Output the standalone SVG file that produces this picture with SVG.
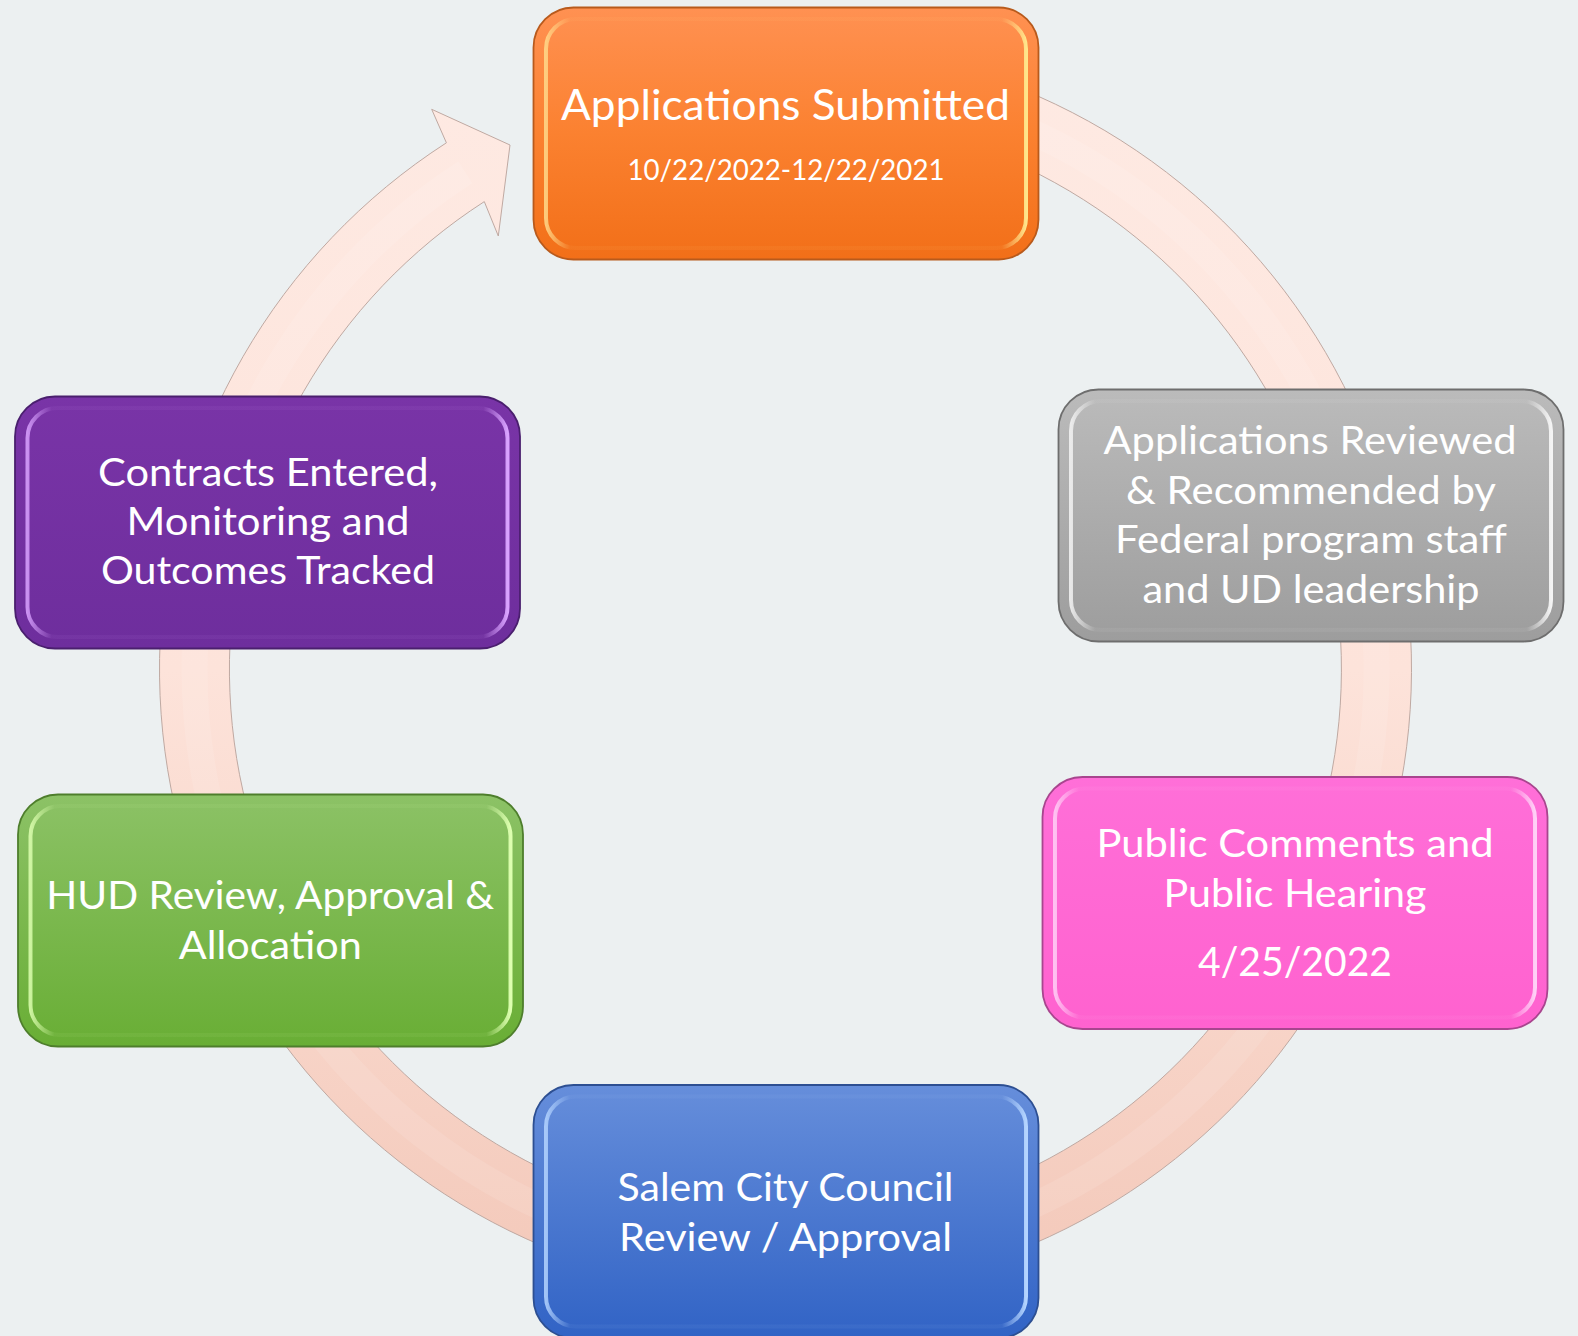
<svg xmlns="http://www.w3.org/2000/svg" width="1578" height="1336" viewBox="0 0 1578 1336">
<defs>
<style>
.t{fill:#fff;font-family:Lato,"Open Sans","DejaVu Sans",sans-serif;text-anchor:middle}
.b{font-size:39px}
.box{stroke-width:1.8}
.gl{fill:none;stroke-width:4}
</style>
<linearGradient id="ringG" gradientUnits="userSpaceOnUse" x1="0" y1="40" x2="0" y2="1300">
<stop offset="0" stop-color="#FEEAE3"/><stop offset="0.5" stop-color="#FDE3DA"/><stop offset="1" stop-color="#F3C8B9"/>
</linearGradient>
<linearGradient id="gO" x1="0" y1="0" x2="0" y2="1"><stop offset="0" stop-color="#FF9152"/><stop offset="0.5" stop-color="#FB8130"/><stop offset="1" stop-color="#F26F18"/></linearGradient>
<linearGradient id="gG" x1="0" y1="0" x2="0" y2="1"><stop offset="0" stop-color="#BBBBBB"/><stop offset="1" stop-color="#9D9D9D"/></linearGradient>
<linearGradient id="gP" x1="0" y1="0" x2="0" y2="1"><stop offset="0" stop-color="#FF6FD8"/><stop offset="1" stop-color="#FF62CF"/></linearGradient>
<linearGradient id="gB" x1="0" y1="0" x2="0" y2="1"><stop offset="0" stop-color="#668EDB"/><stop offset="1" stop-color="#3163C5"/></linearGradient>
<linearGradient id="gN" x1="0" y1="0" x2="0" y2="1"><stop offset="0" stop-color="#8CC266"/><stop offset="1" stop-color="#69AE35"/></linearGradient>
<linearGradient id="gV" x1="0" y1="0" x2="0" y2="1"><stop offset="0" stop-color="#7934A7"/><stop offset="1" stop-color="#6E2E9D"/></linearGradient>
<linearGradient id="hO" x1="0" y1="0" x2="1" y2="0"><stop offset="0" stop-color="#FFD98A" stop-opacity="0.85"/><stop offset="0.05" stop-color="#FFD98A" stop-opacity="0.06"/><stop offset="0.95" stop-color="#FFD98A" stop-opacity="0.06"/><stop offset="1" stop-color="#FFE58A" stop-opacity="1"/></linearGradient>
<linearGradient id="hG" x1="0" y1="0" x2="1" y2="0"><stop offset="0" stop-color="#F4F4F4" stop-opacity="0.85"/><stop offset="0.05" stop-color="#F4F4F4" stop-opacity="0.06"/><stop offset="0.95" stop-color="#F4F4F4" stop-opacity="0.06"/><stop offset="1" stop-color="#F4F4F4" stop-opacity="1"/></linearGradient>
<linearGradient id="hP" x1="0" y1="0" x2="1" y2="0"><stop offset="0" stop-color="#FFD0F6" stop-opacity="0.85"/><stop offset="0.05" stop-color="#FFD0F6" stop-opacity="0.06"/><stop offset="0.95" stop-color="#FFD0F6" stop-opacity="0.06"/><stop offset="1" stop-color="#FFD0F6" stop-opacity="1"/></linearGradient>
<linearGradient id="hB" x1="0" y1="0" x2="1" y2="0"><stop offset="0" stop-color="#B4D4FF" stop-opacity="0.85"/><stop offset="0.05" stop-color="#B4D4FF" stop-opacity="0.06"/><stop offset="0.95" stop-color="#B4D4FF" stop-opacity="0.06"/><stop offset="1" stop-color="#B4D4FF" stop-opacity="1"/></linearGradient>
<linearGradient id="hN" x1="0" y1="0" x2="1" y2="0"><stop offset="0" stop-color="#DDFFB0" stop-opacity="0.85"/><stop offset="0.05" stop-color="#DDFFB0" stop-opacity="0.06"/><stop offset="0.95" stop-color="#DDFFB0" stop-opacity="0.06"/><stop offset="1" stop-color="#DDFFB0" stop-opacity="1"/></linearGradient>
<linearGradient id="hV" x1="0" y1="0" x2="1" y2="0"><stop offset="0" stop-color="#D9A2FF" stop-opacity="0.85"/><stop offset="0.05" stop-color="#D9A2FF" stop-opacity="0.06"/><stop offset="0.95" stop-color="#D9A2FF" stop-opacity="0.06"/><stop offset="1" stop-color="#D9A2FF" stop-opacity="1"/></linearGradient>
</defs>
<rect x="0" y="0" width="1578" height="1336" fill="#ECF0F1"/>
<g id="connectors">
<path d="M 785.5 43 A 626 626 0 1 1 446.4 142.8 L 431.7 109.3 L 510 145 L 498.3 236 L 484.3 201.6 A 556 556 0 1 0 785.5 113 Z" fill="url(#ringG)" stroke="#BFA9A2" stroke-width="1"/>
<path d="M 785.5 78 A 591 591 0 1 1 465.4 172.2" fill="none" stroke="#FFFFFF" stroke-opacity="0.1" stroke-width="26"/>
</g>
<g id="node-applications-submitted">
<rect class="box" x="533.5" y="7.5" width="505" height="252" rx="40" fill="url(#gO)" stroke="#B85A1C"/>
<rect class="gl" x="546" y="19" width="480" height="229" rx="30" stroke="url(#hO)"/>
<text class="t" x="785.5" y="120" font-size="43" textLength="449" lengthAdjust="spacingAndGlyphs">Applications Submitted</text>
<text class="t" x="786" y="180" font-size="29" textLength="317" lengthAdjust="spacingAndGlyphs">10/22/2022-12/22/2021</text>
</g>
<g id="node-applications-reviewed">
<rect class="box" x="1058.5" y="389.5" width="505" height="252" rx="40" fill="url(#gG)" stroke="#6E6E6E"/>
<rect class="gl" x="1071" y="401" width="480" height="229" rx="30" stroke="url(#hG)"/>
<text class="t b" x="1310" y="454" textLength="413" lengthAdjust="spacingAndGlyphs">Applications Reviewed</text>
<text class="t b" x="1311" y="503.5" textLength="370" lengthAdjust="spacingAndGlyphs">&amp; Recommended by</text>
<text class="t b" x="1311" y="553.3" textLength="392" lengthAdjust="spacingAndGlyphs">Federal program staff</text>
<text class="t b" x="1311" y="602.7" textLength="337" lengthAdjust="spacingAndGlyphs">and UD leadership</text>
</g>
<g id="node-public-comments">
<rect class="box" x="1042.5" y="777" width="505" height="252" rx="40" fill="url(#gP)" stroke="#A8458E"/>
<rect class="gl" x="1055" y="788.5" width="480" height="229" rx="30" stroke="url(#hP)"/>
<text class="t b" x="1295" y="857.3" textLength="397" lengthAdjust="spacingAndGlyphs">Public Comments and</text>
<text class="t b" x="1295" y="906.7" textLength="263" lengthAdjust="spacingAndGlyphs">Public Hearing</text>
<text class="t" x="1295" y="976" font-size="41" textLength="194" lengthAdjust="spacingAndGlyphs">4/25/2022</text>
</g>
<g id="node-city-council">
<rect class="box" x="533.5" y="1085" width="505" height="253" rx="40" fill="url(#gB)" stroke="#2D4F92"/>
<rect class="gl" x="546" y="1096.5" width="480" height="230" rx="30" stroke="url(#hB)"/>
<text class="t b" x="785.5" y="1200.5" textLength="336" lengthAdjust="spacingAndGlyphs">Salem City Council</text>
<text class="t b" x="785.5" y="1250.5" textLength="333" lengthAdjust="spacingAndGlyphs">Review / Approval</text>
</g>
<g id="node-hud-review">
<rect class="box" x="18" y="794.5" width="505" height="252" rx="40" fill="url(#gN)" stroke="#4E7E2C"/>
<rect class="gl" x="30.5" y="806" width="480" height="229" rx="30" stroke="url(#hN)"/>
<text class="t b" x="270.3" y="909" textLength="448" lengthAdjust="spacingAndGlyphs">HUD Review, Approval &amp;</text>
<text class="t b" x="270.3" y="959" textLength="183" lengthAdjust="spacingAndGlyphs">Allocation</text>
</g>
<g id="node-contracts">
<rect class="box" x="15" y="396.5" width="505" height="252" rx="40" fill="url(#gV)" stroke="#4A1F6E"/>
<rect class="gl" x="27.5" y="408" width="480" height="229" rx="30" stroke="url(#hV)"/>
<text class="t b" x="268" y="486" textLength="340" lengthAdjust="spacingAndGlyphs">Contracts Entered,</text>
<text class="t b" x="268" y="535" textLength="283" lengthAdjust="spacingAndGlyphs">Monitoring and</text>
<text class="t b" x="268" y="584" textLength="334" lengthAdjust="spacingAndGlyphs">Outcomes Tracked</text>
</g>
</svg>
